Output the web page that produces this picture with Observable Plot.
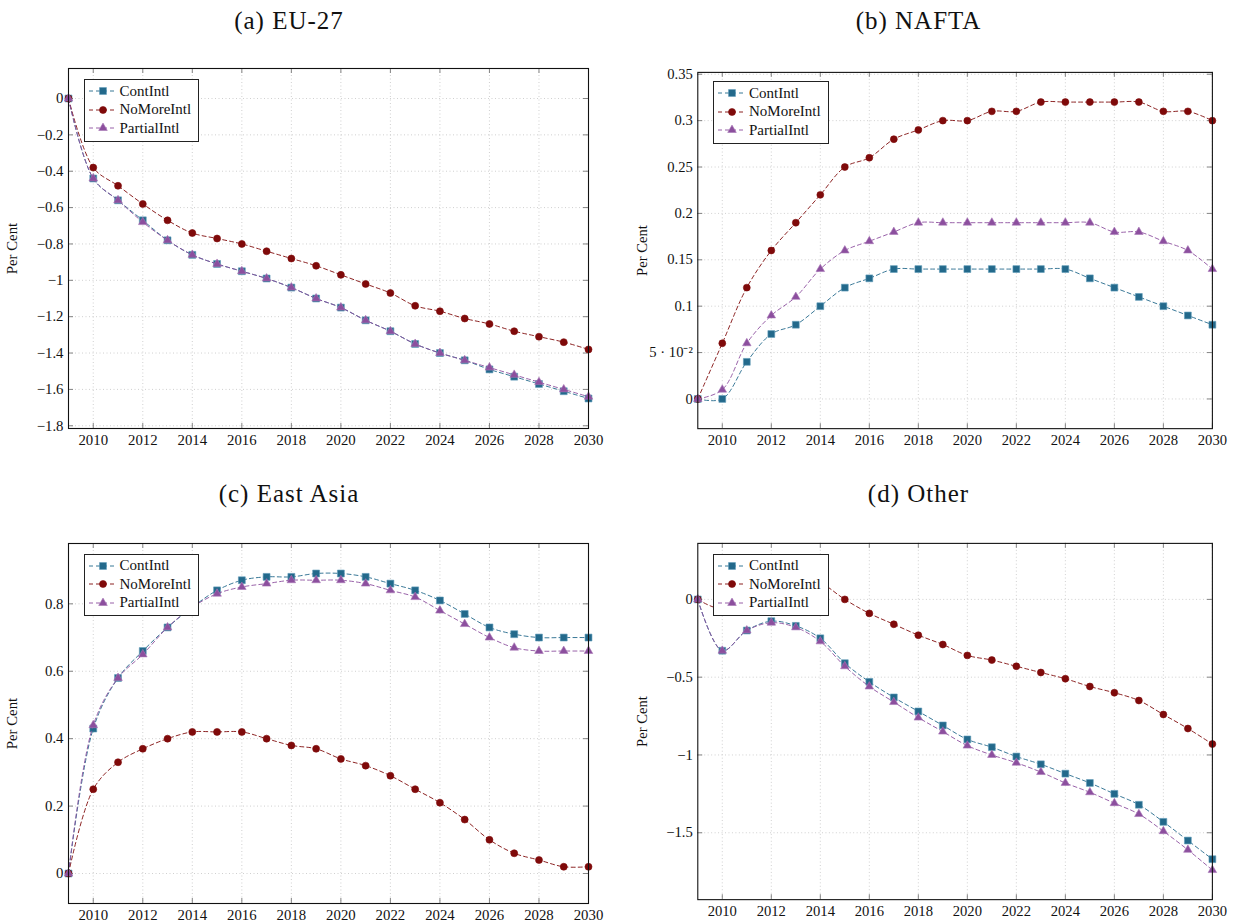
<!DOCTYPE html>
<html>
<head>
<meta charset="utf-8">
<script src="https://cdn.jsdelivr.net/npm/d3@7"></script>
<script src="https://cdn.jsdelivr.net/npm/@observablehq/plot@0.6"></script>
<style>
  body { margin: 0; background: #fff; font-family: 'Liberation Serif'; }
  .title { position: absolute; font-size: 25px; line-height: 25px; letter-spacing: 1px; transform: translateX(-50%); white-space: nowrap; }
  .panel { position: absolute; }
  .legend { position: absolute; background: #fff; border: 1px solid #222; padding: 2px 7px 3px 4px; font-size: 15px; }
  .legend .row { display: flex; align-items: center; height: 18.6px; white-space: nowrap; }
  .legend svg { margin-right: 3px; display: block; }
</style>
</head>
<body>
<div id="root" style="position:relative;width:1249px;height:923px;background:#fff;color:#111;font-family:'Liberation Serif'"></div>
<script>
// ---------- data ----------
const years = [2009, 2010, 2011, 2012, 2013, 2014, 2015, 2016, 2017, 2018, 2019, 2020, 2021, 2022, 2023, 2024, 2025, 2026, 2027, 2028, 2029, 2030];
const seriesNames = ["ContIntl", "NoMoreIntl", "PartialIntl"];
const xTickValues = [2010, 2012, 2014, 2016, 2018, 2020, 2022, 2024, 2026, 2028, 2030];

// (a) EU-27
const euCont    = [0, -0.44, -0.56, -0.67, -0.78, -0.86, -0.91, -0.95, -0.99, -1.04, -1.10, -1.15, -1.22, -1.28, -1.35, -1.40, -1.44, -1.49, -1.53, -1.57, -1.61, -1.65];
const euNoMore  = [0, -0.38, -0.48, -0.58, -0.67, -0.74, -0.77, -0.80, -0.84, -0.88, -0.92, -0.97, -1.02, -1.07, -1.14, -1.17, -1.21, -1.24, -1.28, -1.31, -1.34, -1.38];
const euPartial = [0, -0.44, -0.56, -0.68, -0.78, -0.86, -0.91, -0.95, -0.99, -1.04, -1.10, -1.15, -1.22, -1.28, -1.35, -1.40, -1.44, -1.48, -1.52, -1.56, -1.60, -1.64];
const euTicks   = [0, -0.2, -0.4, -0.6, -0.8, -1, -1.2, -1.4, -1.6, -1.8];

// (b) NAFTA
const naCont    = [0, 0, 0.04, 0.07, 0.08, 0.10, 0.12, 0.13, 0.14, 0.14, 0.14, 0.14, 0.14, 0.14, 0.14, 0.14, 0.13, 0.12, 0.11, 0.10, 0.09, 0.08];
const naNoMore  = [0, 0.06, 0.12, 0.16, 0.19, 0.22, 0.25, 0.26, 0.28, 0.29, 0.30, 0.30, 0.31, 0.31, 0.32, 0.32, 0.32, 0.32, 0.32, 0.31, 0.31, 0.30];
const naPartial = [0, 0.01, 0.06, 0.09, 0.11, 0.14, 0.16, 0.17, 0.18, 0.19, 0.19, 0.19, 0.19, 0.19, 0.19, 0.19, 0.19, 0.18, 0.18, 0.17, 0.16, 0.14];
const naTicks   = [0, 0.05, 0.1, 0.15, 0.2, 0.25, 0.3, 0.35];

// (c) East Asia
const eaCont    = [0, 0.43, 0.58, 0.66, 0.73, 0.79, 0.84, 0.87, 0.88, 0.88, 0.89, 0.89, 0.88, 0.86, 0.84, 0.81, 0.77, 0.73, 0.71, 0.70, 0.70, 0.70];
const eaNoMore  = [0, 0.25, 0.33, 0.37, 0.40, 0.42, 0.42, 0.42, 0.40, 0.38, 0.37, 0.34, 0.32, 0.29, 0.25, 0.21, 0.16, 0.10, 0.06, 0.04, 0.02, 0.02];
const eaPartial = [0, 0.44, 0.58, 0.65, 0.73, 0.79, 0.83, 0.85, 0.86, 0.87, 0.87, 0.87, 0.86, 0.84, 0.82, 0.78, 0.74, 0.70, 0.67, 0.66, 0.66, 0.66];
const eaTicks   = [0, 0.2, 0.4, 0.6, 0.8];

// (d) Other
const otCont    = [0, -0.33, -0.20, -0.14, -0.17, -0.25, -0.41, -0.53, -0.63, -0.72, -0.81, -0.90, -0.95, -1.01, -1.06, -1.12, -1.18, -1.25, -1.32, -1.43, -1.55, -1.67];
const otNoMore  = [0, -0.06, 0.05, 0.14, 0.17, 0.11, 0, -0.09, -0.16, -0.23, -0.29, -0.36, -0.39, -0.43, -0.47, -0.51, -0.56, -0.60, -0.65, -0.74, -0.83, -0.93];
const otPartial = [0, -0.33, -0.20, -0.15, -0.18, -0.27, -0.43, -0.56, -0.66, -0.76, -0.85, -0.94, -1.00, -1.05, -1.11, -1.18, -1.24, -1.31, -1.38, -1.49, -1.61, -1.74];
const otTicks   = [0, -0.5, -1, -1.5];

// ---------- styling ----------
const FONT = "'Liberation Serif'";
const seriesStyle = {
  ContIntl:    {color: "#23698b", edge: "#5f9bb8", symbol: "square",   r: 3.9},
  NoMoreIntl:  {color: "#7f0a0a", edge: "#7f0a0a", symbol: "circle",   r: 3.5},
  PartialIntl: {color: "#8c4f9e", edge: "#a877b6", symbol: "triangle", r: 3.2}
};

const minus = s => s.replace("-", "\u2212");
const fmtPlain = d => d === 0 ? "0" : minus(String(+d.toFixed(2)));
const fmtNafta = d => Math.abs(d - 0.05) < 1e-9 ? "5 \u00b7 10\u207b\u00b2" : fmtPlain(d);

const panels = [
  {title: "(a) EU-27",     values: [euCont, euNoMore, euPartial], ticks: euTicks, domain: [-1.815, 0.165], fmt: fmtPlain,
   left: 0,     top: 58,    titleX: 289, titleTop: 8,   legendDy: 11},
  {title: "(b) NAFTA",     values: [naCont, naNoMore, naPartial], ticks: naTicks, domain: [-0.032, 0.352], fmt: fmtNafta,
   left: 629.5, top: 62.3,  titleX: 918.5, titleTop: 8, legendDy: 8.7},
  {title: "(c) East Asia", values: [eaCont, eaNoMore, eaPartial], ticks: eaTicks, domain: [-0.089, 0.979], fmt: fmtPlain,
   left: 0,     top: 532.5, titleX: 289, titleTop: 481, legendDy: 11},
  {title: "(d) Other",     values: [otCont, otNoMore, otPartial], ticks: otTicks, domain: [-1.93, 0.36],   fmt: fmtPlain,
   left: 629.5, top: 532.5, titleX: 918.5, titleTop: 481, legendDy: 11}
];

const W = 626, H = 400, ML = 68, MR = 38, MT = 10, MB = 30;
const PW = W - ML - MR, PH = H - MT - MB;
const root = document.getElementById("root");

function legendSwatch(name) {
  const s = seriesStyle[name];
  const sym = {square: d3.symbolSquare, circle: d3.symbolCircle, triangle: d3.symbolTriangle}[s.symbol];
  const path = d3.symbol(sym, Math.PI * s.r * s.r)();
  return `<svg width="28" height="18" viewBox="0 0 28 18">
    <line x1="0" x2="28" y1="9" y2="9" stroke="${s.color}" stroke-width="0.9" stroke-dasharray="4,3"/>
    <path d="${path}" transform="translate(14,9)" fill="${s.color}" stroke="${s.edge}" stroke-width="0.6"/>
  </svg>`;
}

for (const p of panels) {
  const rows = [];
  seriesNames.forEach((name, k) => {
    years.forEach((yr, i) => rows.push({year: yr, series: name, value: p.values[k][i]}));
  });

  const seriesMarks = [];
  for (const name of seriesNames) {
    const s = seriesStyle[name];
    const data = rows.filter(d => d.series === name);
    seriesMarks.push(
      Plot.line(data, {x: "year", y: "value", curve: "catmull-rom", stroke: s.color, strokeWidth: 0.9, strokeDasharray: "4,3"}),
      Plot.dot(data, {x: "year", y: "value", symbol: s.symbol, r: s.r, fill: s.color, stroke: s.edge, strokeWidth: 0.6})
    );
  }

  const chart = Plot.plot({
    width: W, height: H,
    marginLeft: ML, marginRight: MR, marginTop: MT, marginBottom: MB,
    style: {fontFamily: "Liberation Serif", fontSize: "14.8px", color: "#111", background: "transparent", overflow: "visible"},
    x: {domain: [2009, 2030]},
    y: {domain: p.domain},
    marks: [
      Plot.gridX(xTickValues, {stroke: "#c4c4c4", strokeOpacity: 1, strokeWidth: 0.8, strokeDasharray: "1,2.5"}),
      Plot.gridY(p.ticks, {stroke: "#c4c4c4", strokeOpacity: 1, strokeWidth: 0.8, strokeDasharray: "1,2.5"}),
      Plot.tickX(xTickValues, {x: d => d, insetTop: PH - 5, stroke: "#777", strokeWidth: 0.9}),
      Plot.tickX(xTickValues, {x: d => d, insetBottom: PH - 5, stroke: "#777", strokeWidth: 0.9}),
      Plot.tickY(p.ticks, {y: d => d, insetRight: PW - 5, stroke: "#777", strokeWidth: 0.9}),
      Plot.tickY(p.ticks, {y: d => d, insetLeft: PW - 5, stroke: "#777", strokeWidth: 0.9}),
      Plot.axisX({ticks: xTickValues, tickSize: 0, tickPadding: 6, tickFormat: d => String(d), label: null}),
      Plot.axisY({ticks: p.ticks, tickSize: 0, tickPadding: 5, tickFormat: p.fmt, label: "Per Cent", labelAnchor: "center", labelArrow: "none", labelOffset: 62}),
      ...seriesMarks,
      Plot.frame({stroke: "#111", strokeWidth: 1.1})
    ]
  });
  d3.select(chart).selectAll("text").style("font-family", FONT);

  const wrap = document.createElement("div");
  wrap.className = "panel";
  wrap.style.left = p.left + "px";
  wrap.style.top = p.top + "px";
  wrap.style.fontFamily = FONT;
  wrap.appendChild(chart);
  root.appendChild(wrap);

  const t = document.createElement("div");
  t.className = "title";
  t.style.fontFamily = FONT;
  t.style.left = p.titleX + "px";
  t.style.top = p.titleTop + "px";
  t.textContent = p.title;
  root.appendChild(t);

  const lg = document.createElement("div");
  lg.className = "legend";
  lg.style.fontFamily = FONT;
  lg.style.left = (p.left + ML + 15.5) + "px";
  lg.style.top = (p.top + MT + p.legendDy) + "px";
  lg.innerHTML = seriesNames.map(n => `<div class="row">${legendSwatch(n)}<span style="font-family:${FONT}">${n}</span></div>`).join("");
  root.appendChild(lg);
}
</script>
</body>
</html>
